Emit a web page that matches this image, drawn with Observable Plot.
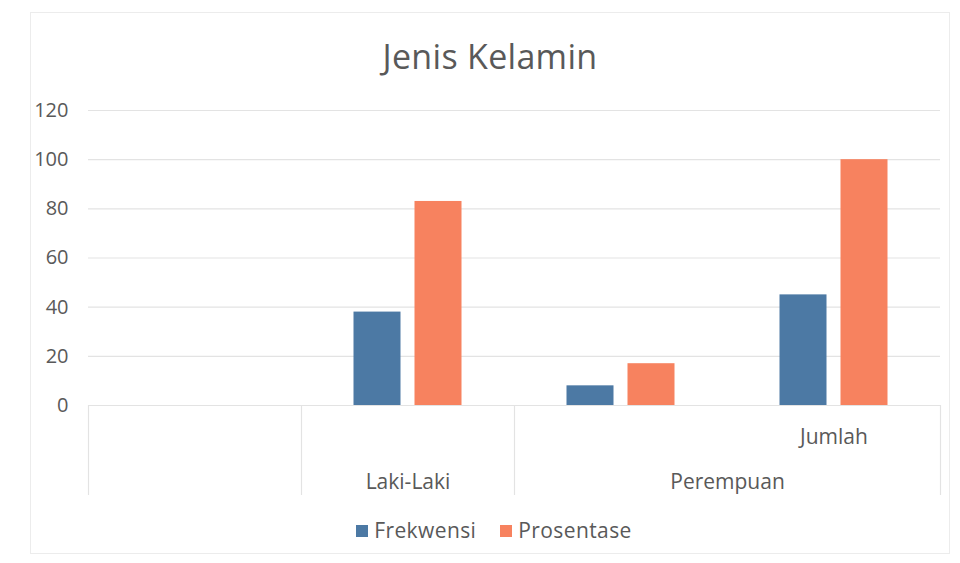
<!DOCTYPE html>
<html>
<head>
<meta charset="utf-8">
<script src="https://cdn.jsdelivr.net/npm/d3@7"></script>
<script src="https://cdn.jsdelivr.net/npm/@observablehq/plot@0.6"></script>
<style>
  html, body { margin: 0; padding: 0; background: #fff; }
  #wrap { position: relative; width: 960px; height: 563px; overflow: hidden; font-family: "Open Sans", sans-serif; color: #595959; }
  #border { position: absolute; left: 30px; top: 12px; width: 920px; height: 542px; border: 1px solid #ececec; box-sizing: border-box; }
  #title { position: absolute; left: 0; width: 980px; top: 34px; text-align: center; font-size: 34px; line-height: 44px; letter-spacing: 0.3px; }
  #chart { position: absolute; left: 0; top: 80px; }
  #legend { position: absolute; left: 0; width: 988px; top: 514px; text-align: center; font-size: 21px; line-height: 30px; letter-spacing: 0.4px; }
  .li { display: inline-flex; align-items: center; margin: 0 12px; }
  .sw { width: 12px; height: 12px; display: inline-block; margin-right: 6px; margin-top: 2px; }
</style>
</head>
<body>
<div id="wrap">
  <div id="border"></div>
  <div id="title">Jenis Kelamin</div>
  <div id="chart"></div>
  <div id="legend"></div>
</div>
<script>
const categories = ["", "Laki-Laki", "Perempuan", "Jumlah"];
const seriesNames = ["Frekwensi", "Prosentase"];
const frekwensi = [null, 38, 8, 45];
const prosentase = [null, 83, 17, 100];
const yTicks = [0, 20, 40, 60, 80, 100, 120];
const colors = ["#4c79a4", "#f7825f"];

const rowsF = categories.map((c, i) => ({cat: c, value: frekwensi[i]})).filter(d => d.value != null);
const rowsP = categories.map((c, i) => ({cat: c, value: prosentase[i]})).filter(d => d.value != null);

const W = 960, H = 430, ML = 88, MR = 20, MT = 30, MB = 105;
const bw = (W - ML - MR) / categories.length;
const barW = 47, gap = 14;
const side = (bw - 2 * barW - gap) / 2;

// multi-level category labels: Laki-Laki under its band; Perempuan spans the Perempuan/Jumlah boundary; Jumlah on the upper level
const labelRows = [
  {cat: "Laki-Laki", text: "Laki-Laki", level: 2, shift: 0},
  {cat: "Perempuan", text: "Perempuan", level: 2, shift: 0.5},
  {cat: "Jumlah", text: "Jumlah", level: 1, shift: 0}
];
const dividerCats = ["", "Laki-Laki", "Perempuan"];
const txt = {fill: "#595959", fontSize: 21, lineAnchor: "bottom", style: "letter-spacing:0.4px"};

const plot = Plot.plot({
  width: W, height: H,
  marginLeft: ML, marginRight: MR, marginTop: MT, marginBottom: MB,
  style: {fontFamily: "Open Sans, sans-serif", fontSize: "21px", color: "#595959", background: "transparent"},
  x: {domain: categories, padding: 0, axis: null},
  y: {domain: [0, 120], ticks: yTicks, label: null},
  marks: [
    Plot.gridY(yTicks, {stroke: "#e3e3e3", strokeOpacity: 1, strokeWidth: 1.2}),
    Plot.axisY(yTicks, {tickSize: 0, tickPadding: 20, fill: "#595959", fontSize: 20, label: null}),
    Plot.barY(rowsF, {x: "cat", y: "value", fill: colors[0], insetLeft: side, insetRight: side + barW + gap}),
    Plot.barY(rowsP, {x: "cat", y: "value", fill: colors[1], insetLeft: side + barW + gap, insetRight: side}),
    Plot.ruleX(dividerCats, {x: d => d, y1: 0, dx: -bw / 2, stroke: "#e3e3e3", strokeWidth: 1.2, insetBottom: -90}),
    Plot.ruleX(["Jumlah"], {x: d => d, y1: 0, dx: bw / 2, stroke: "#e3e3e3", strokeWidth: 1.2, insetBottom: -90}),
    Plot.text(labelRows.filter(d => d.level === 2 && d.shift === 0), {x: "cat", y: () => 0, text: "text", dy: 83, ...txt}),
    Plot.text(labelRows.filter(d => d.shift === 0.5), {x: "cat", y: () => 0, text: "text", dx: bw / 2, dy: 83, ...txt}),
    Plot.text(labelRows.filter(d => d.level === 1), {x: "cat", y: () => 0, text: "text", dy: 38, ...txt})
  ]
});
document.getElementById("chart").appendChild(plot);

const legend = document.getElementById("legend");
seriesNames.forEach((s, i) => {
  const item = document.createElement("span");
  item.className = "li";
  item.innerHTML = `<span class="sw" style="background:${colors[i]}"></span>${s}`;
  legend.appendChild(item);
});
</script>
</body>
</html>
